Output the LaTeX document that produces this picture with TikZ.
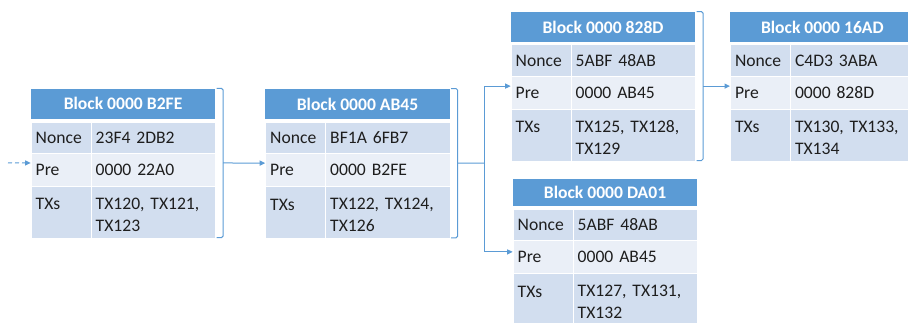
\documentclass[tikz,border=0pt]{standalone}
\usepackage{fontspec}
\setmainfont{Carlito}
\usetikzlibrary{arrows.meta}
\definecolor{hdrblue}{HTML}{5B9BD5}
\definecolor{bandA}{HTML}{D2DEEF}
\definecolor{bandB}{HTML}{EAEFF7}
\definecolor{linkblue}{HTML}{5B9BD5}
\definecolor{txtcol}{HTML}{1E1E1E}
\tikzset{
  hdr/.style={fill=hdrblue, text=white, font=\fontsize{17.6}{22}\selectfont\bfseries,
    minimum width=184.3pt, inner sep=0pt, anchor=north west},
  cell/.style={draw=white, line width=1pt, anchor=north west, inner xsep=4.5pt,
    inner ysep=0pt, align=left, text=txtcol, font=\fontsize{17.6}{22}\selectfont},
  lblcell/.style={cell, minimum width=60pt, text width=51pt},
  valcell/.style={cell, minimum width=124.3pt, text width=115.3pt},
  brace/.style={draw=linkblue, line width=1pt, rounded corners=1.5pt},
  link/.style={draw=linkblue, line width=1pt},
  conn/.style={link, -{Triangle[length=5.5pt,width=5pt]}},
}
% #1 name, #2 x, #3 top y, #4 header height, #5 title, #6 nonce, #7 pre, #8 txs
\newcommand\chainblock[8]{%
  \node[hdr, minimum height=#4pt] (#1-h) at (#2,#3) {#5};
  \node[lblcell, fill=bandA, minimum height=31.3pt] (#1-nl) at (#2,#3+#4+2.7) {Nonce};
  \node[valcell, fill=bandA, minimum height=31.3pt] (#1-nv) at (#2+60,#3+#4+2.7) {#6};
  \node[lblcell, fill=bandB, minimum height=33.3pt] (#1-pl) at (#2,#3+#4+34) {Pre};
  \node[valcell, fill=bandB, minimum height=33.3pt] (#1-pv) at (#2+60,#3+#4+34) {#7};
  \node[lblcell, fill=bandA, minimum height=51.5pt] (#1-tl) at (#2,#3+#4+67.3) {\rule[-22pt]{0pt}{39pt}TXs};
  \node[valcell, fill=bandA, minimum height=51.5pt] (#1-tv) at (#2+60,#3+#4+67.3) {\rule{0pt}{17pt}#8};
  \coordinate (#1-in) at (#2, #3+#4/2+59.4);
}
% #1 name, #2 x, #3 top y, #4 header height
\newcommand\blockbrace[4]{%
  \coordinate (#1-out) at (#2+184.3+8, #3+#4/2+59.4);
  \draw[brace] (#2+184.3+1.5,#3) -- (#2+184.3+8,#3) -- (#2+184.3+8,#3+#4+118.8) -- (#2+184.3+1.5,#3+#4+118.8);
}
\begin{document}
\begin{tikzpicture}[x=1pt,y=-1pt]
  \useasboundingbox (0,0) rectangle (908,322);
  \chainblock{b1}{30.7}{88.3}{30.5}{Block 0000 B2FE}{23F4 2DB2}{0000 22A0}{TX120, TX121,\\TX123}
  \chainblock{b2}{265.2}{88.5}{30.5}{Block 0000 AB45}{BF1A 6FB7}{0000 B2FE}{TX122, TX124,\\TX126}
  \chainblock{b3}{510.7}{11.7}{30}{Block 0000 828D}{5ABF 48AB}{0000 AB45}{TX125, TX128,\\TX129}
  \chainblock{b4}{512.7}{179}{27}{Block 0000 DA01}{5ABF 48AB}{0000 AB45}{TX127, TX131,\\TX132}
  \chainblock{b5}{730}{11.7}{30}{Block 0000 16AD}{C4D3 3ABA}{0000 828D}{TX130, TX133,\\TX134}
  \blockbrace{b1}{30.7}{88.3}{30.5}
  \blockbrace{b2}{265.2}{88.5}{30.5}
  \blockbrace{b3}{510.7}{11.7}{30}
  \coordinate (src) at (8,162.9);
  \coordinate (j) at (484,163.1);
  \draw[conn, dash pattern=on 4pt off 3pt] (src) -- (b1-in);
  \draw[conn] (b1-out) -- (b2-in);
  \draw[link] (b2-out) -- (j);
  \draw[conn] (j) |- (b3-in);
  \draw[conn] (j) |- (b4-in);
  \draw[conn] (b3-out) -- (b5-in);
\end{tikzpicture}
\end{document}
